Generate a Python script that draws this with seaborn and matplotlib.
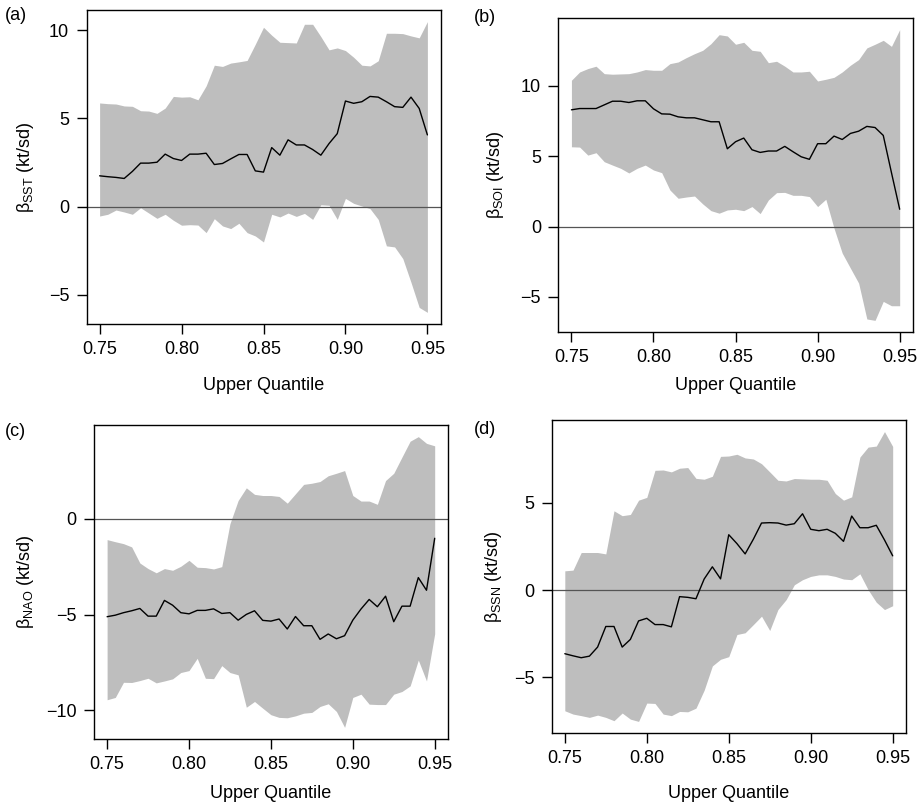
import numpy as np
import pandas as pd
import matplotlib
matplotlib.use("Agg")
import matplotlib.pyplot as plt
import seaborn as sns

# ---------------- data ----------------
quantile = [0.750, 0.755, 0.760, 0.765, 0.770, 0.775, 0.780, 0.785, 0.790, 0.795,
            0.800, 0.805, 0.810, 0.815, 0.820, 0.825, 0.830, 0.835, 0.840, 0.845,
            0.850, 0.855, 0.860, 0.865, 0.870, 0.875, 0.880, 0.885, 0.890, 0.895,
            0.900, 0.905, 0.910, 0.915, 0.920, 0.925, 0.930, 0.935, 0.940, 0.945,
            0.950]

sst_beta = [1.75, 1.70, 1.66, 1.60, 2.00, 2.47, 2.47, 2.52, 2.98, 2.73,
            2.62, 2.98, 2.98, 3.03, 2.39, 2.45, 2.71, 2.96, 2.96, 2.03,
            1.96, 3.35, 2.92, 3.79, 3.50, 3.50, 3.24, 2.92, 3.58, 4.14,
            5.99, 5.86, 5.95, 6.25, 6.21, 5.95, 5.67, 5.63, 6.21, 5.57,
            4.07]
sst_upper = [5.88, 5.84, 5.82, 5.71, 5.69, 5.44, 5.42, 5.29, 5.59, 6.25,
             6.21, 6.23, 6.06, 6.85, 8.02, 7.95, 8.14, 8.21, 8.29, 9.21,
             10.17, 9.72, 9.32, 9.30, 9.28, 10.34, 10.34, 9.64, 8.89, 9.00,
             8.85, 8.47, 8.02, 7.98, 8.27, 9.83, 9.83, 9.81, 9.68, 9.57,
             10.49]
sst_lower = [-0.53, -0.43, -0.19, -0.30, -0.43, -0.06, -0.36, -0.66, -0.43, -0.77,
             -1.05, -1.02, -1.04, -1.47, -0.68, -1.09, -1.24, -0.94, -1.47, -1.66,
             -2.00, -0.43, -0.58, -0.36, -0.55, -0.38, -0.72, 0.11, 0.08, -0.72,
             0.47, 0.19, 0.04, -0.11, -0.72, -2.22, -2.28, -2.94, -4.29, -5.71,
             -5.99]

soi_beta = [8.30, 8.39, 8.39, 8.39, 8.65, 8.91, 8.91, 8.82, 8.94, 8.94,
            8.37, 8.01, 7.99, 7.80, 7.73, 7.73, 7.59, 7.45, 7.45, 5.53,
            6.03, 6.29, 5.46, 5.27, 5.37, 5.37, 5.70, 5.32, 4.96, 4.78,
            5.89, 5.89, 6.43, 6.19, 6.62, 6.78, 7.12, 7.04, 6.48, 3.83,
            1.23]
soi_upper = [10.40, 10.99, 11.23, 11.40, 10.87, 10.83, 10.85, 10.87, 10.99, 11.16,
             11.11, 11.11, 11.58, 11.70, 12.01, 12.29, 12.53, 13.00, 13.64, 13.55,
             12.96, 13.10, 12.53, 12.46, 11.65, 11.75, 11.40, 10.99, 10.99, 11.04,
             10.35, 10.47, 10.61, 10.99, 11.47, 11.87, 12.70, 12.96, 13.24, 12.81,
             14.00]
soi_lower = [5.67, 5.65, 5.08, 5.25, 4.61, 4.37, 4.14, 3.81, 4.14, 4.37,
             4.02, 3.83, 2.60, 2.01, 2.10, 2.17, 1.61, 1.13, 0.95, 1.18,
             1.23, 1.13, 1.42, 0.92, 1.89, 2.41, 2.43, 2.22, 2.22, 2.13,
             1.42, 1.94, -0.12, -1.89, -2.96, -4.02, -6.57, -6.67, -5.32, -5.63,
             -5.63]

nao_beta = [-5.11, -5.03, -4.90, -4.80, -4.68, -5.08, -5.08, -4.26, -4.51, -4.90,
            -4.96, -4.78, -4.78, -4.70, -4.94, -4.90, -5.29, -4.99, -4.80, -5.30,
            -5.34, -5.23, -5.75, -5.10, -5.58, -5.58, -6.29, -6.01, -6.26, -6.10,
            -5.29, -4.71, -4.21, -4.59, -4.04, -5.37, -4.56, -4.56, -3.07, -3.73,
            -1.02]
nao_upper = [-1.09, -1.20, -1.30, -1.47, -2.31, -2.60, -2.82, -2.60, -2.69, -2.48,
             -2.17, -2.53, -2.55, -2.62, -2.50, -0.26, 0.95, 1.61, 1.27, 1.21,
             1.21, 1.16, 0.81, 1.30, 1.79, 1.85, 1.94, 2.24, 2.37, 2.51,
             1.21, 0.92, 0.92, 0.75, 1.99, 2.37, 3.21, 4.04, 4.28, 3.93,
             3.80]
nao_lower = [-9.44, -9.32, -8.53, -8.54, -8.44, -8.32, -8.56, -8.46, -8.35, -8.02,
             -7.92, -7.28, -8.32, -8.34, -7.66, -8.02, -8.14, -9.83, -9.53, -9.88,
             -10.22, -10.36, -10.38, -10.28, -10.14, -10.10, -9.79, -9.65, -10.05, -10.88,
             -9.32, -9.15, -9.67, -9.69, -9.69, -9.15, -9.01, -8.72, -7.37, -8.46,
             -6.00]

ssn_beta = [-3.65, -3.77, -3.88, -3.79, -3.27, -2.09, -2.09, -3.27, -2.83, -1.77,
            -1.62, -1.98, -1.98, -2.11, -0.38, -0.42, -0.50, 0.63, 1.33, 0.64,
            3.17, 2.66, 2.07, 2.91, 3.84, 3.86, 3.84, 3.72, 3.80, 4.37,
            3.48, 3.40, 3.48, 3.25, 2.79, 4.24, 3.57, 3.57, 3.71, 2.87,
            1.96]
ssn_upper = [1.10, 1.14, 2.15, 2.15, 2.15, 2.07, 4.54, 4.26, 4.33, 5.15,
             5.31, 6.86, 6.88, 6.77, 6.98, 7.02, 6.40, 6.35, 6.52, 7.66,
             7.68, 7.78, 7.57, 7.51, 7.24, 6.77, 6.29, 6.25, 6.39, 6.37,
             6.35, 6.35, 6.29, 5.53, 5.15, 5.34, 7.62, 8.19, 8.25, 9.08,
             8.23]
ssn_lower = [-6.92, -7.11, -7.20, -7.30, -7.17, -7.30, -7.49, -7.05, -7.40, -7.53,
             -6.48, -6.50, -7.11, -7.20, -6.96, -6.98, -6.77, -5.74, -4.35, -3.97,
             -3.82, -2.55, -2.45, -1.98, -1.50, -2.32, -1.12, -0.55, 0.30, 0.59,
             0.78, 0.87, 0.87, 0.78, 0.63, 0.59, 0.93, 0.02, -0.70, -1.12,
             -0.90]

panel_tags = ["(a)", "(b)", "(c)", "(d)"]
subscripts = ["SST", "SOI", "NAO", "SSN"]
x_ticks = [0.75, 0.80, 0.85, 0.90, 0.95]
y_ticks = [[-5, 0, 5, 10], [-5, 0, 5, 10], [-10, -5, 0], [-5, 0, 5]]
x_label = "Upper Quantile"

# ---------------- style ----------------
sns.set_theme(style="ticks")
plt.rcParams["font.family"] = ["Liberation Sans", "DejaVu Sans"]
plt.rcParams["mathtext.fontset"] = "custom"
plt.rcParams["mathtext.rm"] = "Liberation Sans"
plt.rcParams["mathtext.default"] = "regular"

W, H = 921, 807
fig = plt.figure(figsize=(W / 100, H / 100), dpi=100)

# axes boxes in pixels: left, right, top, bottom
boxes = [(86.5, 440.5, 10, 324),
         (558.3, 912.8, 18, 332),
         (94.0, 447.8, 425, 739),
         (551.7, 905.8, 420, 733)]
tag_pos = [(5, 16), (474, 18), (5, 432), (474, 430)]
ylab_x = [26, 495, 26, 493]
xlab_y = [386, 385, 793, 793]

data = [(sst_beta, sst_lower, sst_upper),
        (soi_beta, soi_lower, soi_upper),
        (nao_beta, nao_lower, nao_upper),
        (ssn_beta, ssn_lower, ssn_upper)]

FS = 13
for i, (beta, lo, hi) in enumerate(data):
    l, r, t, b = boxes[i]
    ax = fig.add_axes([l / W, 1 - b / H, (r - l) / W, (b - t) / H])
    df = pd.DataFrame({"q": quantile, "beta": beta, "lo": lo, "hi": hi})
    ax.fill_between(df["q"], df["lo"], df["hi"], color="#bebebe", lw=0, zorder=1)
    sns.lineplot(data=df, x="q", y="beta", ax=ax, color="black", lw=1.0, zorder=3)
    ax.axhline(0, color="#555555", lw=0.9, zorder=2)

    xmin, xmax = min(quantile), max(quantile)
    xp = 0.04 * (xmax - xmin)
    ymin, ymax = min(lo), max(hi)
    yp = 0.04 * (ymax - ymin)
    ax.set_xlim(xmin - xp, xmax + xp)
    ax.set_ylim(ymin - yp, ymax + yp)

    ax.set_xticks(x_ticks)
    ax.set_xticklabels([f"{v:.2f}" for v in x_ticks])
    ax.set_yticks(y_ticks[i])
    ax.set_yticklabels([("\u2212" + str(-v)) if v < 0 else str(v) for v in y_ticks[i]])
    ax.tick_params(axis="both", direction="out", length=7.5, width=1.0,
                   color="black", labelsize=FS, labelcolor="black", pad=5)
    for sp in ax.spines.values():
        sp.set_visible(True)
        sp.set_color("black")
        sp.set_linewidth(1.0)

    ax.set_xlabel(x_label, fontsize=FS, color="black")
    ax.set_ylabel("\u03b2$_{" + subscripts[i] + "}$ (kt/sd)", fontsize=FS, color="black")
    ax.yaxis.set_label_coords((ylab_x[i] - l) / (r - l), 0.5)
    ax.xaxis.set_label_coords(0.5, (b - xlab_y[i]) / (b - t))
    ax.xaxis.label.set_va("center")
    ax.yaxis.label.set_va("center")

    fig.text(tag_pos[i][0] / W, 1 - tag_pos[i][1] / H, panel_tags[i],
             fontsize=FS, ha="left", va="center", color="black")

fig.savefig("out.png", dpi=100, facecolor="white")
